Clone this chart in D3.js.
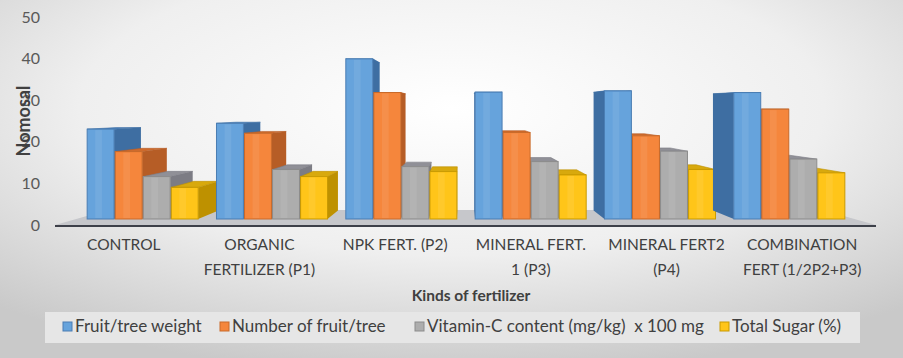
<!DOCTYPE html>
<html><head><meta charset="utf-8">
<script src="https://cdn.jsdelivr.net/npm/d3@7"></script>
<style>body{margin:0;background:#fff}svg{display:block}</style>
</head><body>
<svg id="c" width="903" height="358"></svg>
<script>
const categories = ["CONTROL","ORGANIC FERTILIZER (P1)","NPK FERT. (P2)","MINERAL FERT. 1 (P3)","MINERAL FERT2 (P4)","COMBINATION FERT (1/2P2+P3)"];
const categoryLines = [["CONTROL"],["ORGANIC","FERTILIZER (P1)"],["NPK FERT. (P2)"],["MINERAL FERT.","1 (P3)"],["MINERAL FERT2","(P4)"],["COMBINATION","FERT (1/2P2+P3)"]];
const seriesNames = ["Fruit/tree weight","Number of fruit/tree","Vitamin-C content (mg/kg)\u00a0 x 100 mg","Total Sugar (%)"];
const fruitWeight = [21.6,23.0,38.5,30.5,30.8,30.4];
const fruitNumber = [16.2,20.6,30.4,20.8,20.0,26.4];
const vitaminC   = [10.2,11.9,12.6,13.8,16.3,14.4];
const totalSugar = [7.6,10.2,11.4,10.6,11.9,11.1];
const yTicks = [0,10,20,30,40,50];
const yTitle = "Nomosal";
const xTitle = "Kinds of fertilizer";

const seriesValues = [fruitWeight, fruitNumber, vitaminC, totalSugar];
const palette = [
  {front:"#66a3dc", side:"#3e6ea2", top:"#4c82bd", stroke:"#4a7db3"},
  {front:"#f5863c", side:"#b65d26", top:"#cf6b2c", stroke:"#c96a2a"},
  {front:"#adadad", side:"#7c7c84", top:"#909097", stroke:"#8c8c8c"},
  {front:"#ffc519", side:"#be9100", top:"#d8a90d", stroke:"#c99a00"}
];

const svg = d3.select("#c");
const W = 903, H = 358;
const font = "Lato, 'Open Sans', sans-serif";

// background
const defs = svg.append("defs");
const bg = defs.append("radialGradient").attr("id","bg").attr("cx","50%").attr("cy","30%").attr("r","75%");
bg.append("stop").attr("offset","0%").attr("stop-color","#ffffff");
bg.append("stop").attr("offset","55%").attr("stop-color","#efefef");
bg.append("stop").attr("offset","100%").attr("stop-color","#c9c9c9");
svg.append("rect").attr("width",W).attr("height",H).attr("fill","url(#bg)");

// scales
const xAxis = d3.scaleBand().domain(categories).range([56,870]);
const xBars = d3.scaleBand().domain(categories).range([78,854]).paddingInner(0.1415).paddingOuter(0.0708);
const xSub = d3.scaleBand().domain(seriesNames).range([0,xBars.bandwidth()]).paddingInner(0.04);
const yBar = d3.scaleLinear().domain([0,50]).range([219,11]);
const yLab = d3.scaleLinear().domain([0,50]).range([225,17]);

const vp = {x:463, y:109}, f = 0.077;
const proj = p => [p[0] + f*(vp.x - p[0]), p[1] + f*(vp.y - p[1])];

// floor
const fl = [[55,225],[876,225],[822,210],[108,210]];
svg.append("path").attr("d","M"+fl.map(p=>p.join(",")).join("L")+"Z").attr("fill","#c6c7cb");
svg.append("line").attr("x1",55).attr("x2",876).attr("y1",226).attr("y2",226)
  .attr("stroke","#3d4049").attr("stroke-width",2.2);

// y tick labels
svg.append("g").selectAll("text").data(yTicks).join("text")
  .attr("x",40).attr("y",d=>yLab(d)).attr("dy","0.35em").attr("text-anchor","end")
  .attr("font-family",font).attr("font-size",16).attr("fill","#595959").text(d=>d);

// bars
const gBars = svg.append("g");
categories.forEach((cat,i)=>{
  let bars = seriesNames.map((s,j)=>{
    const x0 = xBars(cat)+xSub(s), w = xSub.bandwidth();
    return {j, x0, w, yTop:yBar(seriesValues[j][i]), yBot:yBar(0)};
  });
  const cx = xBars(cat)+xBars.bandwidth()/2;
  if (cx > vp.x) bars = bars.slice().reverse();
  bars.forEach(b=>{
    const c = palette[b.j];
    const TL=[b.x0,b.yTop], TR=[b.x0+b.w,b.yTop], BL=[b.x0,b.yBot], BR=[b.x0+b.w,b.yBot];
    const poly = pts => "M"+pts.map(p=>p.join(",")).join("L")+"Z";
    const g = gBars.append("g");
    g.append("path").attr("d",poly([TL,TR,proj(TR),proj(TL)])).attr("fill",c.top).attr("stroke",c.side).attr("stroke-width",0.6);
    if (vp.x > b.x0+b.w) g.append("path").attr("d",poly([TR,BR,proj(BR),proj(TR)])).attr("fill",c.side);
    else if (vp.x < b.x0) g.append("path").attr("d",poly([TL,BL,proj(BL),proj(TL)])).attr("fill",c.side);
    g.append("rect").attr("x",b.x0).attr("y",b.yTop).attr("width",b.w).attr("height",b.yBot-b.yTop)
      .attr("fill",c.front).attr("stroke",c.stroke).attr("stroke-width",1);
    g.append("rect").attr("x",b.x0+b.w*0.3).attr("y",b.yTop+1).attr("width",b.w*0.25).attr("height",b.yBot-b.yTop-2)
      .attr("fill","#ffffff").attr("opacity",0.08);
  });
});

// category labels
const gCat = svg.append("g");
categories.forEach((cat,i)=>{
  const t = gCat.append("text").attr("x",xAxis(cat)+xAxis.bandwidth()/2).attr("y",250)
    .attr("text-anchor","middle").attr("font-family",font).attr("font-size",15.5).attr("fill","#404040");
  categoryLines[i].forEach((ln,k)=>t.append("tspan").attr("x",xAxis(cat)+xAxis.bandwidth()/2).attr("dy",k?25:0).text(ln));
});

// axis titles
svg.append("text").attr("x",471).attr("y",301).attr("text-anchor","middle")
  .attr("font-family",font).attr("font-weight","bold").attr("font-size",15.5).attr("fill","#404040").text(xTitle);
svg.append("text").attr("transform","translate(30,121) rotate(-90)").attr("text-anchor","middle")
  .attr("font-family",font).attr("font-weight","bold").attr("font-size",18).attr("fill","#404040").text(yTitle);

// legend
svg.append("rect").attr("x",45).attr("y",312).attr("width",815).attr("height",31).attr("fill","#e6e6e6");
const legX = [63,220,415,720];
const gl = svg.append("g");
seriesNames.forEach((s,j)=>{
  gl.append("rect").attr("x",legX[j]).attr("y",322).attr("width",9).attr("height",9)
    .attr("fill",palette[j].front).attr("stroke",palette[j].stroke);
  gl.append("text").attr("x",legX[j]+12).attr("y",332).attr("font-family",font).attr("font-size",17)
    .attr("fill","#404040").style("white-space","pre").text(s);
});
</script>
</body></html>
